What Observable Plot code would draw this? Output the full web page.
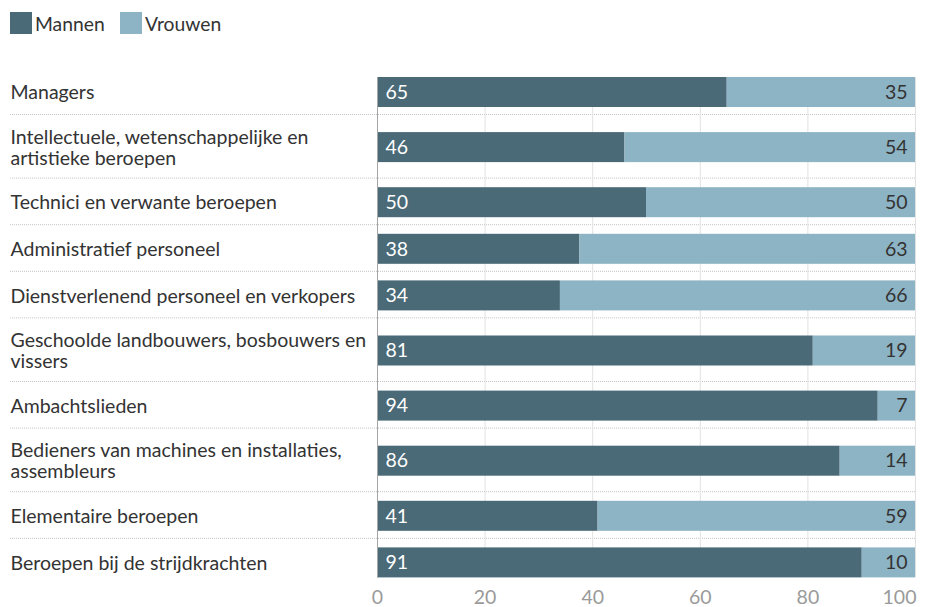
<!DOCTYPE html>
<html>
<head>
<meta charset="utf-8">
<script src="https://cdn.jsdelivr.net/npm/d3@7"></script>
<script src="https://cdn.jsdelivr.net/npm/@observablehq/plot@0.6"></script>
<style>
  body { margin: 0; background: #fff; font-family: Lato, "Open Sans", sans-serif; }
  #legend { height: 45px; position: relative; }
  .item { position: absolute; top: 12px; display: flex; align-items: center; height: 22px; font-size: 19.3px; color: #333; }
  .sw { width: 22px; height: 22px; margin-right: 3px; }
  #chart svg { display: block; }
</style>
</head>
<body>
<div id="legend"></div>
<div id="chart"></div>
<script>
const categories = [
  "Managers",
  "Intellectuele, wetenschappelijke en\nartistieke beroepen",
  "Technici en verwante beroepen",
  "Administratief personeel",
  "Dienstverlenend personeel en verkopers",
  "Geschoolde landbouwers, bosbouwers en\nvissers",
  "Ambachtslieden",
  "Bedieners van machines en installaties,\nassembleurs",
  "Elementaire beroepen",
  "Beroepen bij de strijdkrachten"
];
const mannen  = [65, 46, 50, 38, 34, 81, 94, 86, 41, 91];
const vrouwen = [35, 54, 50, 63, 66, 19,  7, 14, 59, 10];
const seriesNames = ["Mannen", "Vrouwen"];
const seriesColors = ["#4a6a77", "#8db4c4"];
const xTicks = [0, 20, 40, 60, 80, 100];

// legend
const legendEl = document.getElementById("legend");
const legendLeft = [10, 120];
seriesNames.forEach((name, i) => {
  const it = document.createElement("div");
  it.className = "item";
  it.style.left = legendLeft[i] + "px";
  const sw = document.createElement("div");
  sw.className = "sw";
  sw.style.background = seriesColors[i];
  it.appendChild(sw);
  it.appendChild(document.createTextNode(name));
  legendEl.appendChild(it);
});

// layout: rows grow with number of label lines
const W = 930, H = 562;
const mLeft = 377, mRight = 15, mTop = 22.4, mBottom = 22.6;
const FS = 19.5;
const rowPx = 46.6;
const extraPerLine = 17 / rowPx;
const lineCount = categories.map(c => c.split("\n").length);
const rowSize = lineCount.map(n => 1 + (n - 1) * extraPerLine);
const bounds = [0, ...d3.cumsum(rowSize)];
const total = bounds[bounds.length - 1];
const half = 15 / rowPx;
const rows = categories.map((cat, i) => {
  const yc = bounds[i] + rowSize[i] / 2 + 1.3 / rowPx;
  return {cat, m: mannen[i], v: vrouwen[i], yc, y1: yc - half, y2: yc + half};
});
const data = rows.flatMap(r => [
  {yc: r.yc, y1: r.y1, y2: r.y2, series: seriesNames[0], value: r.m},
  {yc: r.yc, y1: r.y1, y2: r.y2, series: seriesNames[1], value: r.v}
]);
const barTop = rows[0].y1, barBottom = rows[rows.length - 1].y2;

const chart = Plot.plot({
  width: W,
  height: H,
  marginLeft: mLeft, marginRight: mRight, marginTop: mTop, marginBottom: mBottom,
  style: {fontFamily: "Lato, sans-serif", fontSize: FS + "px", background: "#fff"},
  x: {domain: [0, 1], axis: null},
  y: {domain: [0, total], reverse: true, axis: null},
  color: {domain: seriesNames, range: seriesColors},
  marks: [
    Plot.ruleY(bounds.slice(1, -1), {stroke: "#c4c4c4", strokeDasharray: "1,1", insetLeft: -(mLeft - 10)}),
    Plot.ruleX(xTicks.slice(1).map(t => t / 100), {y1: barTop, y2: barBottom, stroke: "#e2e2e2"}),
    Plot.rectX(data, Plot.stackX({offset: "normalize", order: seriesNames}, {x: "value", y: "yc", y1: "y1", y2: "y2", fill: "series"})),
    Plot.ruleX([0], {y1: barTop, y2: barBottom, stroke: "#a6a6a6"}),
    Plot.text(rows, {x: 0, y: "yc", text: "m", textAnchor: "start", dx: 8, fill: "#fff", fontSize: FS}),
    Plot.text(rows, {x: 1, y: "yc", text: "v", textAnchor: "end", dx: -8, fill: "#333", fontSize: FS}),
    Plot.text(rows, {x: 0, y: "yc", text: "cat", textAnchor: "start", dx: 10 - mLeft, fill: "#333", fontSize: FS, lineHeight: 1.08}),
    Plot.axisX(xTicks.slice(0, -1).map(t => t / 100), {tickSize: 0, tickPadding: 5.5, tickFormat: d => Math.round(d * 100), fill: "#9a9a9a", fontSize: FS, label: null}),
    Plot.axisX([1], {tickSize: 0, tickPadding: 5.5, tickFormat: d => Math.round(d * 100), fill: "#9a9a9a", fontSize: FS, textAnchor: "end", dx: 1, label: null})
  ]
});
document.getElementById("chart").appendChild(chart);
</script>
</body>
</html>
